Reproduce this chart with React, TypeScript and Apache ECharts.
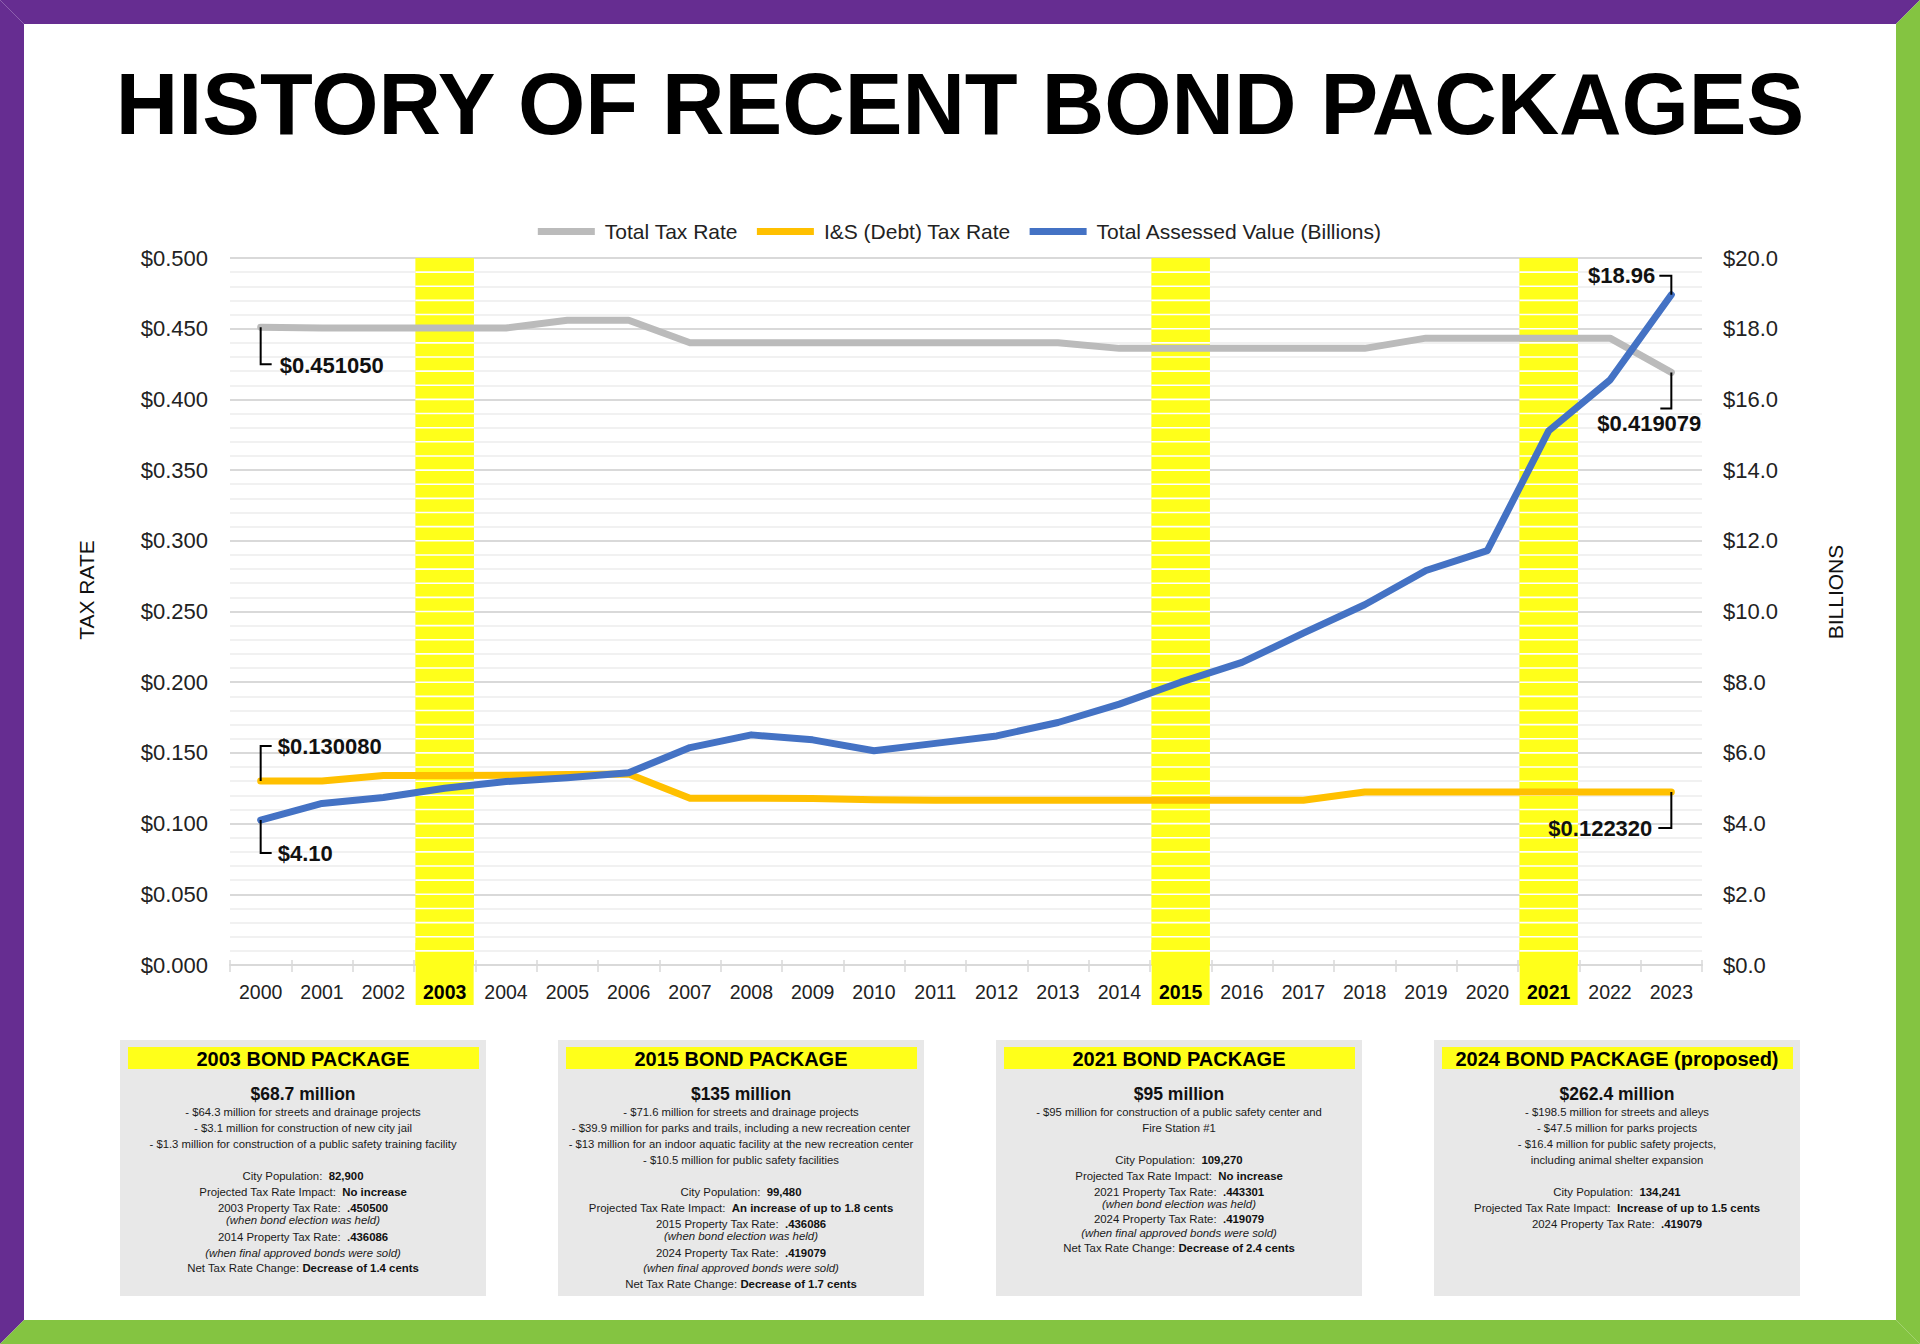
import React, { useEffect, useRef } from 'react';
import * as echarts from 'echarts';

const FONT = '"Liberation Sans", Arial, Helvetica, sans-serif';

// ---------- chart data ----------
const years = ['2000', '2001', '2002', '2003', '2004', '2005', '2006', '2007', '2008', '2009', '2010', '2011',
  '2012', '2013', '2014', '2015', '2016', '2017', '2018', '2019', '2020', '2021', '2022', '2023'];
const highlightYears = ['2003', '2015', '2021'];
const totalTaxRate = [0.45105, 0.4505, 0.4505, 0.4505, 0.4505, 0.456, 0.456, 0.44, 0.44, 0.44, 0.44, 0.44,
  0.44, 0.44, 0.436086, 0.436086, 0.436086, 0.436086, 0.436086, 0.443301, 0.443301, 0.443301, 0.443301, 0.419079];
const debtTaxRate = [0.13008, 0.1301, 0.134, 0.134, 0.1342, 0.1348, 0.135, 0.118, 0.118, 0.1178, 0.1168, 0.1165,
  0.1165, 0.1165, 0.1165, 0.1165, 0.1165, 0.1165, 0.12232, 0.12232, 0.12232, 0.12232, 0.12232, 0.12232];
const assessedValue = [4.1, 4.57, 4.74, 5.0, 5.19, 5.3, 5.44, 6.15, 6.51, 6.37, 6.06, 6.27,
  6.48, 6.86, 7.38, 8.0, 8.56, 9.39, 10.19, 11.16, 11.72, 15.11, 16.55, 18.96];
const seriesNames = ['Total Tax Rate', 'I&S (Debt) Tax Rate', 'Total Assessed Value (Billions)'];
const leftAxis = { min: 0, max: 0.5, interval: 0.05 };
const rightAxis = { min: 0, max: 20, interval: 2 };

// annotations: [seriesIndex, yearIndex, label]
const callouts = [
  { series: 1, idx: 0, text: '$0.451050' },
  { series: 2, idx: 0, text: '$0.130080' },
  { series: 3, idx: 0, text: '$4.10' },
  { series: 3, idx: 23, text: '$18.96' },
  { series: 1, idx: 23, text: '$0.419079' },
  { series: 2, idx: 23, text: '$0.122320' },
];

// ---------- bond package boxes ----------
const packageTitles = ['2003 BOND PACKAGE', '2015 BOND PACKAGE', '2021 BOND PACKAGE', '2024 BOND PACKAGE (proposed)'];
const packageAmounts = ['$68.7 million', '$135 million', '$95 million', '$262.4 million'];
const packageBullets = [
  ['- $64.3 million for streets and drainage projects', '- $3.1 million for construction of new city jail',
    '- $1.3 million for construction of a public safety training facility'],
  ['- $71.6 million for streets and drainage projects',
    '- $39.9 million for parks and trails, including a new recreation center',
    '- $13 million for an indoor aquatic facility at the new recreation center',
    '- $10.5 million for public safety facilities'],
  ['- $95 million for construction of a public safety center and', 'Fire Station #1'],
  ['- $198.5 million for streets and alleys', '- $47.5 million for parks projects',
    '- $16.4 million for public safety projects,', 'including animal shelter expansion'],
];
const packageDetails: [string, string, boolean?][][] = [
  [['City Population:  ', '82,900'], ['Projected Tax Rate Impact:  ', 'No increase'], ['2003 Property Tax Rate:  ', '.450500'],
    ['(when bond election was held)', '', true], ['2014 Property Tax Rate:  ', '.436086'],
    ['(when final approved bonds were sold)', '', true], ['Net Tax Rate Change: ', 'Decrease of 1.4 cents']],
  [['City Population:  ', '99,480'], ['Projected Tax Rate Impact:  ', 'An increase of up to 1.8 cents'],
    ['2015 Property Tax Rate:  ', '.436086'], ['(when bond election was held)', '', true],
    ['2024 Property Tax Rate:  ', '.419079'], ['(when final approved bonds were sold)', '', true],
    ['Net Tax Rate Change: ', 'Decrease of 1.7 cents']],
  [['City Population:  ', '109,270'], ['Projected Tax Rate Impact:  ', 'No increase'], ['2021 Property Tax Rate:  ', '.443301'],
    ['(when bond election was held)', '', true], ['2024 Property Tax Rate:  ', '.419079'],
    ['(when final approved bonds were sold)', '', true], ['Net Tax Rate Change: ', 'Decrease of 2.4 cents']],
  [['City Population:  ', '134,241'], ['Projected Tax Rate Impact:  ', 'Increase of up to 1.5 cents'],
    ['2024 Property Tax Rate:  ', '.419079']],
];

// layout for boxes
const BOX_LEFTS = [120, 558, 996, 1434];
const BOX_TOP = 1040;
const BOX_W = 366;
const BOX_H = 256;
const bulletYs = [[71.7, 87.7, 103.7], [71.7, 87.7, 103.7, 120], [71.7, 87.7], [71.7, 87.7, 103.7, 120]];
const detailYs = [[136.3, 151.7, 168, 180, 196.7, 213.3, 228.3], [151.7, 168, 184, 196.3, 212.7, 228.3, 244.3],
  [120.3, 135.7, 151.7, 164, 179.3, 193.3, 208.3], [151.7, 168, 184]];

const YELLOW = '#FFFF1A';
const GRID_MAJOR = '#d9d9d9';
const GRID_MINOR = '#ededed';

function buildStaticGraphics(): any[] {
  const g: any[] = [];
  const purple = '#662D91';
  const green = '#84C441';
  g.push({ type: 'polygon', shape: { points: [[0, 0], [1920, 0], [1896, 24], [24, 24]] }, style: { fill: purple } });
  g.push({ type: 'polygon', shape: { points: [[0, 0], [24, 24], [24, 1320], [0, 1344]] }, style: { fill: purple } });
  g.push({ type: 'polygon', shape: { points: [[1920, 0], [1920, 1344], [1896, 1320], [1896, 24]] }, style: { fill: green } });
  g.push({ type: 'polygon', shape: { points: [[0, 1344], [24, 1320], [1896, 1320], [1920, 1344]] }, style: { fill: green } });
  g.push({
    type: 'text', x: 960, y: 104,
    style: { text: 'HISTORY OF RECENT BOND PACKAGES', fontSize: 86.5, fontWeight: 'bold', fontFamily: FONT, fill: '#000', align: 'center', verticalAlign: 'middle' },
  });
  g.push({ type: 'text', x: 86, y: 590, rotation: Math.PI / 2,
    style: { text: 'TAX RATE', fontSize: 21, fontFamily: FONT, fill: '#111', align: 'center', verticalAlign: 'middle' } });
  g.push({ type: 'text', x: 1835, y: 592, rotation: Math.PI / 2,
    style: { text: 'BILLIONS', fontSize: 21, fontFamily: FONT, fill: '#111', align: 'center', verticalAlign: 'middle' } });

  BOX_LEFTS.forEach((left, b) => {
    const cx = left + BOX_W / 2;
    g.push({ type: 'rect', shape: { x: left, y: BOX_TOP, width: BOX_W, height: BOX_H }, style: { fill: '#E8E8E8' } });
    g.push({ type: 'rect', shape: { x: left + 8, y: BOX_TOP + 7, width: BOX_W - 15, height: 22 }, style: { fill: YELLOW } });
    g.push({ type: 'text', x: cx, y: BOX_TOP + 18.5,
      style: { text: packageTitles[b], fontSize: 20, fontWeight: 'bold', fontFamily: FONT, fill: '#000', align: 'center', verticalAlign: 'middle' } });
    g.push({ type: 'text', x: cx, y: BOX_TOP + 54.3,
      style: { text: packageAmounts[b], fontSize: 17.5, fontWeight: 'bold', fontFamily: FONT, fill: '#111', align: 'center', verticalAlign: 'middle' } });
    packageBullets[b].forEach((t, i) => {
      g.push({ type: 'text', x: cx, y: BOX_TOP + bulletYs[b][i],
        style: { text: t, fontSize: 11.3, fontFamily: FONT, fill: '#1a1a1a', align: 'center', verticalAlign: 'middle' } });
    });
    packageDetails[b].forEach((d, i) => {
      const [a, v, ital] = d;
      const text = ital ? `{i|${a}}` : `{r|${a}}{b|${v}}`;
      g.push({ type: 'text', x: cx, y: BOX_TOP + detailYs[b][i],
        style: {
          text, align: 'center', verticalAlign: 'middle', fontSize: 11.4, fontFamily: FONT, fill: '#1a1a1a',
          rich: {
            r: { fontSize: 11.4, fontFamily: FONT, fill: '#1a1a1a' },
            b: { fontSize: 11.4, fontFamily: FONT, fontWeight: 'bold', fill: '#111' },
            i: { fontSize: 11.4, fontFamily: FONT, fontStyle: 'italic', fill: '#1a1a1a' },
          },
        } });
    });
  });
  return g;
}

function buildCallouts(chart: any): any[] {
  const g: any[] = [];
  const values = [null, totalTaxRate, debtTaxRate, assessedValue];
  const textStyle = (text: string, align: string) => ({ text, fontSize: 22, fontWeight: 'bold', fontFamily: FONT, fill: '#111', align, verticalAlign: 'middle' });
  callouts.forEach((c) => {
    const arr = values[c.series] as number[];
    const p = chart.convertToPixel({ seriesIndex: c.series }, [years[c.idx], arr[c.idx]]);
    const [px, py] = p;
    let pts: number[][] = [];
    let tx = 0, ty = 0, align = 'left';
    if (c.idx === 0 && c.series === 1) { pts = [[px, py], [px, py + 37], [px + 11, py + 37]]; tx = px + 19; ty = py + 38; }
    else if (c.idx === 0 && c.series === 2) { pts = [[px, py], [px, py - 35], [px + 11, py - 35]]; tx = px + 17; ty = py - 35; }
    else if (c.idx === 0 && c.series === 3) { pts = [[px, py], [px, py + 33], [px + 11, py + 33]]; tx = px + 17; ty = py + 33; }
    else if (c.series === 3) { pts = [[px, py], [px, py - 19], [px - 12, py - 19]]; tx = px - 16; ty = py - 19; align = 'right'; }
    else if (c.series === 1) { pts = [[px, py], [px, py + 36], [px - 11, py + 36]]; tx = px - 22; ty = py + 51; align = 'center'; }
    else { pts = [[px, py], [px, py + 36], [px - 13, py + 36]]; tx = px - 19; ty = py + 36; align = 'right'; }
    g.push({ type: 'polyline', z: 20, shape: { points: pts }, style: { stroke: '#000', lineWidth: 2, fill: null } });
    g.push({ type: 'text', z: 20, x: tx, y: ty, style: textStyle(c.text, align) });
  });
  return g;
}

export default function App() {
  const ref = useRef<HTMLDivElement>(null);
  useEffect(() => {
    if (!ref.current) return;
    const chart = echarts.init(ref.current, undefined, { renderer: 'svg' });
    const bandData = highlightYears.map((y) => [years.indexOf(y)]);
    const option: any = {
      animation: false,
      backgroundColor: '#ffffff',
      textStyle: { fontFamily: FONT },
      legend: {
        top: 216, left: 'center', icon: 'rect', itemWidth: 57, itemHeight: 7, itemGap: 19,
        data: seriesNames,
        textStyle: { fontSize: 21, color: '#222', fontFamily: FONT, padding: [0, 0, 0, 5] },
      },
      grid: { left: 230, top: 258, width: 1472, height: 707, containLabel: false },
      xAxis: [
        {
          type: 'category', data: years, boundaryGap: true,
          axisLine: { show: true, lineStyle: { color: GRID_MAJOR, width: 2 } },
          axisTick: { show: true, length: 7, lineStyle: { color: GRID_MAJOR, width: 1.5 } },
          axisLabel: {
            margin: 0, interval: 0,
            formatter: (v: string) => (highlightYears.includes(v) ? `{hl|${v}}` : `{n|${v}}`),
            rich: {
              n: { fontSize: 19.5, fontFamily: FONT, color: '#222', padding: [39, 0, 3, 0], lineHeight: 18 },
              hl: { fontSize: 19.5, fontFamily: FONT, color: '#000', fontWeight: 'bold', padding: [39, 0, 3, 0], lineHeight: 18,
                backgroundColor: YELLOW, width: 58, align: 'center' },
            },
          },
          splitLine: { show: false },
        },
        {
          type: 'category', data: years, position: 'top', boundaryGap: true,
          axisLine: { show: false },
          axisTick: { show: true, length: 5, lineStyle: { color: GRID_MAJOR, width: 1.5 } },
          axisLabel: { show: false },
          splitLine: { show: false },
        },
      ],
      yAxis: [
        {
          type: 'value', min: leftAxis.min, max: leftAxis.max, interval: leftAxis.interval, position: 'left',
          axisLine: { show: false }, axisTick: { show: false },
          axisLabel: { margin: 22, fontSize: 22, color: '#222', fontFamily: FONT, formatter: (v: number) => '$' + v.toFixed(3) },
          splitLine: { show: true, lineStyle: { color: GRID_MAJOR, width: 2 } },
          minorTick: { show: false, splitNumber: 5 },
          minorSplitLine: { show: true, lineStyle: { color: GRID_MINOR, width: 1.5 } },
        },
        {
          type: 'value', min: rightAxis.min, max: rightAxis.max, interval: rightAxis.interval, position: 'right',
          axisLine: { show: false }, axisTick: { show: false },
          axisLabel: { margin: 21, fontSize: 22, color: '#222', fontFamily: FONT, formatter: (v: number) => '$' + v.toFixed(1) },
          splitLine: { show: false },
        },
      ],
      series: [
        {
          name: 'band', type: 'custom', xAxisIndex: 0, yAxisIndex: 0, z: 1, silent: true,
          data: bandData, encode: { x: 0 },
          renderItem: (params: any, api: any) => {
            const idx = api.value(0);
            const bottom = api.coord([idx, leftAxis.min]);
            const top = api.coord([idx, leftAxis.max]);
            const w = api.size([1, 0])[0] * 0.955;
            const x0 = bottom[0] - w / 2;
            const children: any[] = [
              { type: 'rect', shape: { x: x0, y: top[1], width: w, height: bottom[1] - top[1] }, style: { fill: YELLOW } },
            ];
            for (let k = 1; k < 50; k++) {
              const p = api.coord([idx, k * 0.01]);
              children.push({ type: 'line', shape: { x1: x0, y1: p[1], x2: x0 + w, y2: p[1] }, style: { stroke: '#ffffff', lineWidth: 1.6 } });
            }
            return { type: 'group', children };
          },
        },
        {
          name: seriesNames[0], type: 'line', xAxisIndex: 0, yAxisIndex: 0, data: totalTaxRate, z: 3,
          symbol: 'none', itemStyle: { color: '#BBBBBB' },
          lineStyle: { color: '#BBBBBB', width: 7, cap: 'round', join: 'round' },
        },
        {
          name: seriesNames[1], type: 'line', xAxisIndex: 0, yAxisIndex: 0, data: debtTaxRate, z: 4,
          symbol: 'none', itemStyle: { color: '#FFC000' },
          lineStyle: { color: '#FFC000', width: 7, cap: 'round', join: 'round' },
        },
        {
          name: seriesNames[2], type: 'line', xAxisIndex: 0, yAxisIndex: 1, data: assessedValue, z: 5,
          symbol: 'none', itemStyle: { color: '#4472C4' },
          lineStyle: { color: '#4472C4', width: 7, cap: 'round', join: 'round' },
        },
      ],
    };
    chart.setOption(option);
    chart.setOption({ graphic: [...buildStaticGraphics(), ...buildCallouts(chart)] });
    return () => chart.dispose();
  }, []);
  return <div ref={ref} style={{ position: 'fixed', left: 0, top: 0, width: 1920, height: 1344, background: '#fff' }} />;
}
